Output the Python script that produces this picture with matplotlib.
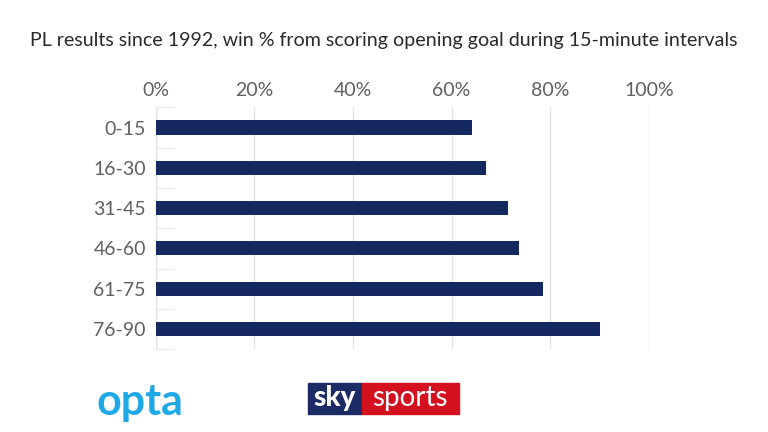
import matplotlib

matplotlib.use("Agg")

import matplotlib.pyplot as plt
from matplotlib.patches import Rectangle

# -----------------------------------------
# Data
# -----------------------------------------

intervals = ["0-15", "16-30", "31-45", "46-60", "61-75", "76-90"]
win_pct = [64.1, 67.0, 71.5, 73.7, 78.6, 90.0]
x_ticks = [0, 20, 40, 60, 80, 100]
x_tick_labels = ["0%", "20%", "40%", "60%", "80%", "100%"]

title = "PL results since 1992, win % from scoring opening goal during 15-minute intervals"

bar_color = "#14295f"
text_color = "#606060"
grid_color = "#e3e3e3"

plt.rcParams["font.family"] = ["Lato", "DejaVu Sans"]

fig = plt.figure(figsize=(7.68, 4.32), dpi=100)
ax = fig.add_axes([0.2026, 0.1917, 0.6424, 0.5597])

ax.barh(
    range(len(intervals)),
    win_pct,
    height=0.35,
    color=bar_color,
    zorder=3
)

ax.set_xlim(0, 100)
ax.set_ylim(len(intervals) - 0.5, -0.5)

ax.set_xticks(x_ticks)
ax.set_xticklabels(x_tick_labels)
ax.xaxis.tick_top()
ax.set_yticks(range(len(intervals)))
ax.set_yticklabels(intervals)

# small separator ticks between categories
ax.set_yticks([i - 0.5 for i in range(len(intervals) + 1)], minor=True)
ax.tick_params(
    axis="y", which="minor", direction="in",
    length=13, width=1, color="#ececec"
)
ax.tick_params(axis="y", which="major", length=0, pad=7,
               labelsize=14, labelcolor=text_color)
ax.tick_params(axis="x", length=0, pad=6,
               labelsize=14, labelcolor=text_color)

ax.grid(axis="x", color=grid_color, linewidth=1, zorder=0)

for side in ["top", "right", "bottom"]:
    ax.spines[side].set_visible(False)
ax.spines["left"].set_color(grid_color)

fig.text(
    0.5, 0.907, title,
    ha="center", va="center",
    fontsize=14.1, color="#2a2a2a"
)

# -----------------------------------------
# Logos
# -----------------------------------------

fig.text(
    96 / 768, 1 - 402 / 432, "opta",
    ha="left", va="center",
    fontsize=31, fontweight="bold", color="#1fa8e6"
)

fig.patches.append(Rectangle(
    (308 / 768, 1 - 414 / 432), 54 / 768, 31 / 432,
    transform=fig.transFigure, color="#1c2a66", zorder=1
))
fig.patches.append(Rectangle(
    (362 / 768, 1 - 414 / 432), 97 / 768, 31 / 432,
    transform=fig.transFigure, color="#d3111f", zorder=1
))
fig.text(
    335 / 768, 1 - 398 / 432, "sky",
    ha="center", va="center",
    fontsize=20, fontweight="black", color="white", zorder=2
)
fig.text(
    410 / 768, 1 - 398 / 432, "sports",
    ha="center", va="center",
    fontsize=20, color="white", zorder=2
)

fig.savefig("out.png", dpi=100, facecolor="white")
plt.close(fig)
